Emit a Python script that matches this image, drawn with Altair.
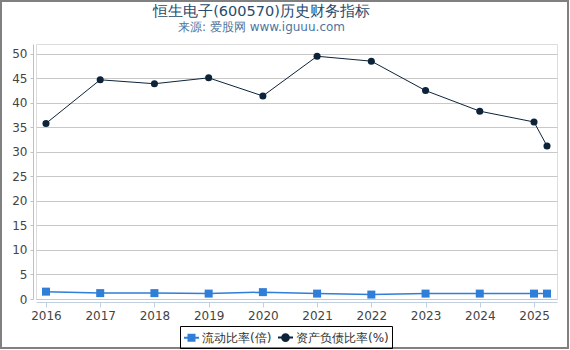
import altair as alt
import pandas as pd

# ---- data ----
years = [2016, 2017, 2018, 2019, 2020, 2021, 2022, 2023, 2024, 2025, 2025.24]
current_ratio = [1.5, 1.2, 1.2, 1.1, 1.4, 1.1, 0.9, 1.1, 1.1, 1.1, 1.1]
debt_ratio = [35.8, 44.7, 43.9, 45.1, 41.4, 49.5, 48.5, 42.5, 38.3, 36.1, 31.2]
series_names = ["流动比率(倍)", "资产负债比率(%)"]
series_colors = ["#2f7ed8", "#0d233a"]
tick_years = list(range(2016, 2026))
y_ticks = list(range(0, 51, 5))

rows = []
for x, c, d in zip(years, current_ratio, debt_ratio):
    rows.append({"year": x, "series": series_names[0], "value": c})
    rows.append({"year": x, "series": series_names[1], "value": d})
df = pd.DataFrame(rows)

FONT = "DejaVu Sans"

x_enc = alt.X(
    "year:Q",
    scale=alt.Scale(domain=[2015.816, 2025.424], nice=False, zero=False),
    axis=alt.Axis(values=tick_years, format="d", title=None, grid=False, offset=3,
                  tickSize=5, domainColor="#c0d0e0", tickColor="#c0d0e0",
                  labelColor="#444444", labelFontSize=12, labelFont=FONT,
                  labelPadding=3, labelFlush=False),
)
y_enc = alt.Y(
    "value:Q",
    scale=alt.Scale(domain=[0, 52], nice=False, zero=True),
    axis=alt.Axis(values=y_ticks, title=None, grid=True, gridColor="#c8c8c8",
                  offset=3, domainColor="#c0c0c0", tickColor="#c0c0c0",
                  tickSize=3, labelColor="#444444", labelFontSize=12,
                  labelFont=FONT, labelPadding=3),
)

base = alt.Chart(df)

line_cur = base.transform_filter(alt.datum.series == series_names[0]).mark_line(
    color=series_colors[0], strokeWidth=1.5).encode(x=x_enc, y=y_enc)
pts_cur = base.transform_filter(alt.datum.series == series_names[0]).mark_point(
    shape="square", filled=True, size=64, color=series_colors[0], opacity=1).encode(x=x_enc, y=y_enc)
line_debt = base.transform_filter(alt.datum.series == series_names[1]).mark_line(
    color=series_colors[1], strokeWidth=1).encode(x=x_enc, y=y_enc)
pts_debt = base.transform_filter(alt.datum.series == series_names[1]).mark_point(
    shape="circle", filled=True, size=50, color=series_colors[1], opacity=1).encode(x=x_enc, y=y_enc)

legend_paths = [
    "M-1,0H1M-0.4,-0.4H0.4V0.4H-0.4Z",
    "M-1,0H1M0.45,0A0.45,0.45,0,1,1,-0.45,0A0.45,0.45,0,1,1,0.45,0Z",
]
leg = alt.Legend(orient="none", legendX=144, legendY=282, direction="horizontal",
                 title=None, strokeColor="#000000", padding=3, cornerRadius=0,
                 labelFontSize=12, labelFont=FONT, labelColor="#333333",
                 symbolSize=225, symbolStrokeWidth=2, labelOffset=2, columnPadding=2)
color_scale = alt.Scale(domain=series_names, range=series_colors)
legend_layer = base.transform_filter("false").mark_point(
    filled=True, strokeWidth=2, opacity=1).encode(
    x=x_enc, y=y_enc,
    color=alt.Color("series:N", scale=color_scale, legend=leg),
    stroke=alt.Stroke("series:N", scale=color_scale, legend=leg),
    shape=alt.Shape("series:N", scale=alt.Scale(domain=series_names, range=legend_paths), legend=leg),
)

frame = alt.Chart(pd.DataFrame({"k": [0]})).mark_rect(
    fillOpacity=0, stroke="#808080", strokeWidth=2).encode(
    x=alt.value(-35), x2=alt.value(532), y=alt.value(-43), y2=alt.value(304))

chart = alt.layer(line_cur, line_debt, pts_cur, pts_debt, legend_layer, frame).properties(
    width=521, height=255,
    padding={"left": 36, "top": 44, "right": 13, "bottom": 51},
    autosize="none",
    title=alt.TitleParams(
        text="恒生电子(600570)历史财务指标",
        subtitle="来源: 爱股网 www.iguuu.com",
        fontSize=14.5, subtitleFontSize=12, fontWeight="normal",
        font=FONT, subtitleFont=FONT,
        color="#274b6d", subtitleColor="#4d759e",
        anchor="middle", frame="group", dx=-35, offset=-34, subtitlePadding=3,
    ),
).configure_view(stroke=None).configure(background="white")

chart.save("out.html", embed_options={"renderer": "svg", "actions": False})
